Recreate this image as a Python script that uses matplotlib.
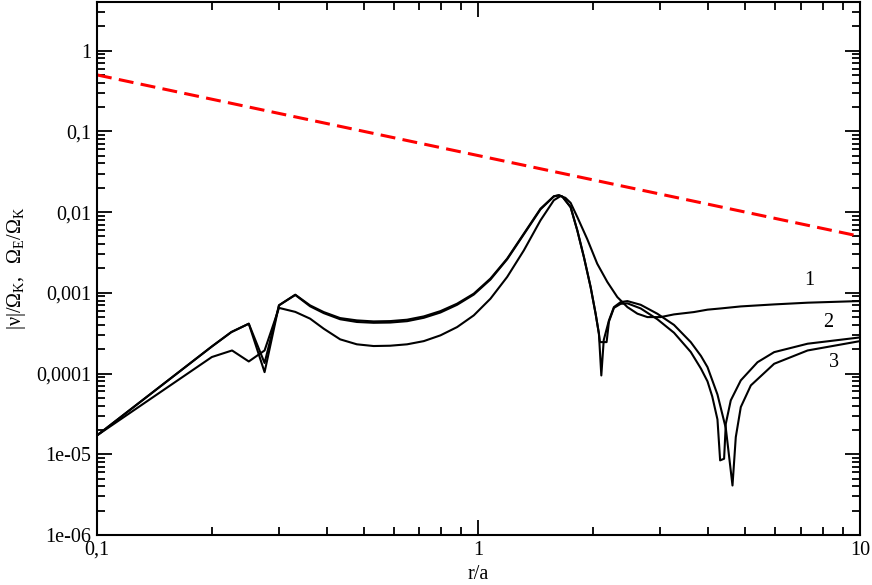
import numpy as np
import matplotlib
matplotlib.use("Agg")
import matplotlib.pyplot as plt
from matplotlib.ticker import FixedLocator, FixedFormatter, LogLocator, NullFormatter

plt.rcParams['font.family'] = ['Liberation Serif', 'DejaVu Serif']
plt.rcParams['mathtext.fontset'] = 'custom'
plt.rcParams['mathtext.rm'] = 'Liberation Serif'
plt.rcParams['mathtext.it'] = 'Liberation Serif:italic'

# curve 1
r1 = [0.1, 0.2, 0.226, 0.25, 0.275, 0.3, 0.331, 0.362, 0.393, 0.434, 0.480, 0.531,
      0.587, 0.650, 0.719, 0.795, 0.879, 0.972, 1.075, 1.189, 1.315, 1.454, 1.576,
      1.642, 1.69, 1.744, 1.816, 1.929, 2.048, 2.177, 2.312, 2.457, 2.61, 2.772,
      3.004, 3.255, 3.67, 3.984, 4.317, 4.871, 5.957, 7.29, 10]
v1 = [1.71e-5, 1.6e-4, 1.93e-4, 1.41e-4, 1.93e-4, 6.5e-4, 5.8e-4, 4.78e-4, 3.59e-4,
      2.65e-4, 2.30e-4, 2.19e-4, 2.21e-4, 2.30e-4, 2.52e-4, 2.97e-4, 3.76e-4, 5.25e-4,
      8.45e-4, 1.57e-3, 3.35e-3, 7.89e-3, 1.40e-2, 1.58e-2, 1.50e-2, 1.30e-2, 8.67e-3,
      4.6e-3, 2.29e-3, 1.36e-3, 8.85e-4, 6.65e-4, 5.51e-4, 5.0e-4, 5.0e-4, 5.4e-4,
      5.77e-4, 6.18e-4, 6.4e-4, 6.78e-4, 7.18e-4, 7.54e-4, 7.9e-4]

# curve 2
r2 = [0.1, 0.2, 0.225, 0.25, 0.275, 0.3, 0.331, 0.362, 0.393, 0.434, 0.480, 0.531,
      0.587, 0.650, 0.719, 0.795, 0.879, 0.972, 1.075, 1.189, 1.315, 1.454, 1.576,
      1.625, 1.66, 1.744, 1.816, 1.890, 1.968, 2.028, 2.069, 2.082, 2.167, 2.198,
      2.265, 2.359, 2.457, 2.662, 2.944, 3.255, 3.601, 3.83, 3.984, 4.10, 4.231,
      4.30, 4.404, 4.45, 4.585, 4.871, 5.388, 5.957, 7.29, 10]
v2 = [1.71e-5, 2.16e-4, 3.26e-4, 4.14e-4, 1.35e-4, 7.0e-4, 9.47e-4, 6.98e-4, 5.77e-4,
      4.86e-4, 4.55e-4, 4.42e-4, 4.46e-4, 4.64e-4, 5.10e-4, 5.93e-4, 7.33e-4, 9.75e-4,
      1.50e-3, 2.65e-3, 5.40e-3, 1.10e-2, 1.57e-2, 1.62e-2, 1.55e-2, 1.15e-2, 5.93e-3,
      2.77e-3, 1.18e-3, 5.51e-4, 3.11e-4, 2.45e-4, 2.45e-4, 4.4e-4, 6.5e-4, 7.3e-4,
      7.4e-4, 6.4e-4, 4.7e-4, 3.2e-4, 1.85e-4, 1.15e-4, 8.0e-5, 5.2e-5, 2.7e-5,
      8.4e-6, 8.8e-6, 2.39e-5, 4.65e-5, 8.22e-5, 1.38e-4, 1.84e-4, 2.34e-4, 2.8e-4]

# curve 3
r3 = [0.1, 0.2, 0.225, 0.25, 0.275, 0.3, 0.331, 0.362, 0.393, 0.434, 0.480, 0.531,
      0.587, 0.650, 0.719, 0.795, 0.879, 0.972, 1.075, 1.189, 1.315, 1.454, 1.576,
      1.625, 1.66, 1.744, 1.816, 1.890, 1.968, 2.028, 2.069, 2.099, 2.13, 2.198,
      2.265, 2.359, 2.457, 2.662, 2.944, 3.255, 3.601, 3.83, 3.984, 4.231, 4.45,
      4.633, 4.726, 4.871, 5.176, 5.957, 7.29, 10]
v3 = [1.71e-5, 2.16e-4, 3.26e-4, 4.14e-4, 1.04e-4, 7.0e-4, 9.4e-4, 6.8e-4, 5.6e-4,
      4.7e-4, 4.35e-4, 4.25e-4, 4.28e-4, 4.45e-4, 4.9e-4, 5.7e-4, 7.1e-4, 9.5e-4,
      1.46e-3, 2.6e-3, 5.3e-3, 1.08e-2, 1.56e-2, 1.61e-2, 1.55e-2, 1.15e-2, 5.9e-3,
      2.75e-3, 1.17e-3, 5.5e-4, 3.1e-4, 9.46e-5, 2.6e-4, 4.55e-4, 6.65e-4, 7.67e-4,
      7.89e-4, 7.1e-4, 5.5e-4, 4.0e-4, 2.45e-4, 1.65e-4, 1.2e-4, 5.5e-5, 2.1e-5,
      4.1e-6, 1.63e-5, 3.84e-5, 7.13e-5, 1.32e-4, 1.93e-4, 2.52e-4]

# Omega_E / Omega_K (red dashed)
r_e = [0.1, 10]
v_e = [0.5, 0.005]

curve_labels = ['1', '2', '3']
label_r = [7.36, 8.23, 8.56]
label_v = [1.43e-3, 4.34e-4, 1.38e-4]

yticks = [1e-6, 1e-5, 1e-4, 1e-3, 1e-2, 1e-1, 1]
ytick_labels = ['1e-06', '1e-05', '0,0001', '0,001', '0,01', '0,1', '1']
xticks = [0.1, 1, 10]
xtick_labels = ['0,1', '1', '10']

fig = plt.figure(figsize=(8.72, 5.85), dpi=100)
ax = fig.add_axes([0.1112, 0.0855, 0.8750, 0.9111])

for r, v in [(r1, v1), (r2, v2), (r3, v3)]:
    ax.plot(r, v, color='black', lw=1.5)
ax.plot(r_e, v_e, color='#ff0000', lw=2.2, ls=(0, (4.9, 2.4)))

for t, r, v in zip(curve_labels, label_r, label_v):
    ax.text(r, v, t, fontsize=14.5, ha='center', va='center')

ax.set_xscale('log')
ax.set_yscale('log')
ax.set_xlim(0.1, 10)
ax.set_ylim(1e-6, 4)

ax.yaxis.set_major_locator(FixedLocator(yticks))
ax.yaxis.set_major_formatter(FixedFormatter(ytick_labels))
ax.xaxis.set_major_locator(FixedLocator(xticks))
ax.xaxis.set_major_formatter(FixedFormatter(xtick_labels))
ax.xaxis.set_minor_locator(LogLocator(base=10, subs=range(2, 10)))
ax.yaxis.set_minor_locator(LogLocator(base=10, subs=range(2, 10), numticks=20))
ax.xaxis.set_minor_formatter(NullFormatter())
ax.yaxis.set_minor_formatter(NullFormatter())

ax.tick_params(which='both', direction='in', top=True, right=True, width=1.3,
               labelsize=14.5, pad=4)
ax.tick_params(which='major', length=11)
ax.tick_params(which='minor', length=6)
for s in ax.spines.values():
    s.set_linewidth(1.5)

ax.set_xlabel('r/a', fontsize=14.5)
ax.set_ylabel(r'$\mathregular{|ν|/Ω_K,\ \ Ω_E/Ω_K}$', fontsize=14.5)
ax.xaxis.set_label_coords(0.5, -0.056)
ax.yaxis.set_label_coords(-0.090, 0.5)

fig.savefig('out.png', dpi=100)
